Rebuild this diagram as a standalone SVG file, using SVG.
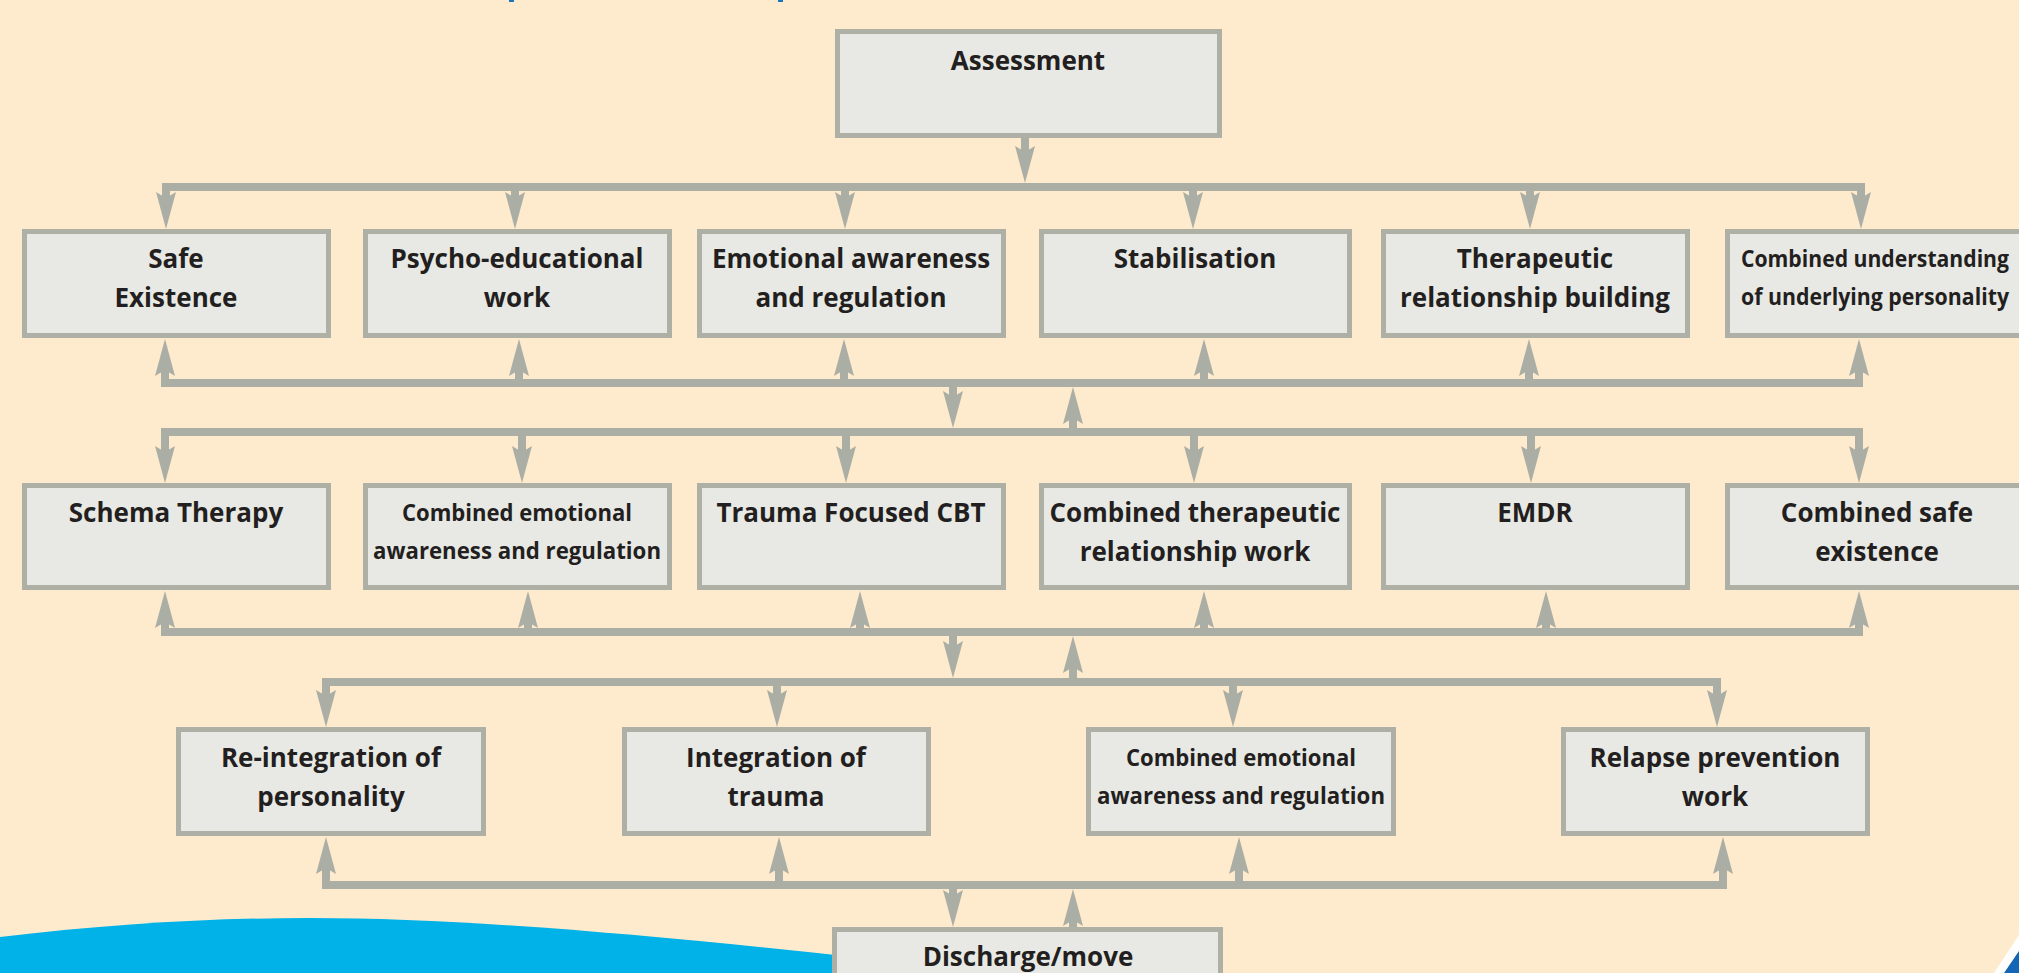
<svg xmlns="http://www.w3.org/2000/svg" xmlns:xlink="http://www.w3.org/1999/xlink" width="2019" height="973" viewBox="0 0 2019 973">
<style>
.box{fill:#e8e9e4;stroke:#aeb0a6;stroke-width:5}
.bus{fill:none;stroke:#abaea5;stroke-width:8;stroke-linejoin:miter;stroke-linecap:butt}
.ah{fill:#abaea5}
.t{font-family:"Open Sans","Liberation Sans",sans-serif;font-weight:700;font-size:26px;fill:#231f20;text-anchor:middle}
.c{font-family:"Open Sans","Liberation Sans",sans-serif;font-weight:700;font-size:24px;fill:#231f20;text-anchor:middle}
</style>
<defs>
<path id="dn" class="ah" d="M0,0 L-10,-37 L0,-31 L10,-37 Z"/>
<path id="up" class="ah" d="M0,0 L-10,37 L0,31 L10,37 Z"/>
</defs>
<rect width="2019" height="973" fill="#feebcd"/>
<rect x="509" y="0" width="5" height="2" fill="#1a75bc"/>
<rect x="778" y="0" width="5" height="2" fill="#1a75bc"/>
<path d="M0,973 L0,937 C110,924 210,918 310,918 C460,918 640,934 845,956 L845,973 Z" fill="#00b2e7"/>
<polygon points="1994,973 2019,935 2019,973" fill="#ffffff"/>
<polygon points="2004,973 2019,951 2019,973" fill="#1565b5"/>

<g id="connectors">
<path class="bus" d="M1025,135 V152"/>
<use href="#dn" x="1025" y="183"/>
<path class="bus" d="M166,198 V187 H1861 V198 M515,187 V198 M845,187 V198 M1193,187 V198 M1530,187 V198"/>
<use href="#dn" x="166" y="229"/><use href="#dn" x="515" y="229"/><use href="#dn" x="845" y="229"/><use href="#dn" x="1193" y="229"/><use href="#dn" x="1530" y="229"/><use href="#dn" x="1861" y="229"/>
<path class="bus" d="M165,370 V383 H1859 V370 M519,383 V370 M844,383 V370 M1204,383 V370 M1529,383 V370"/>
<use href="#up" x="165" y="339"/><use href="#up" x="519" y="339"/><use href="#up" x="844" y="339"/><use href="#up" x="1204" y="339"/><use href="#up" x="1529" y="339"/><use href="#up" x="1859" y="339"/>
<path class="bus" d="M953,383 V397 M1073,418 V432"/>
<use href="#dn" x="953" y="428"/><use href="#up" x="1073" y="387"/>
<path class="bus" d="M165,452 V432 H1859 V452 M522,432 V452 M846,432 V452 M1194,432 V452 M1531,432 V452"/>
<use href="#dn" x="165" y="483"/><use href="#dn" x="522" y="483"/><use href="#dn" x="846" y="483"/><use href="#dn" x="1194" y="483"/><use href="#dn" x="1531" y="483"/><use href="#dn" x="1859" y="483"/>
<path class="bus" d="M165,621 V632 H1859 V621 M528,632 V621 M860,632 V621 M1204,632 V621 M1546,632 V621"/>
<use href="#up" x="165" y="591"/><use href="#up" x="528" y="591"/><use href="#up" x="860" y="591"/><use href="#up" x="1204" y="591"/><use href="#up" x="1546" y="591"/><use href="#up" x="1859" y="591"/>
<path class="bus" d="M953,632 V647 M1073,667 V682"/>
<use href="#dn" x="953" y="678"/><use href="#up" x="1073" y="636"/>
<path class="bus" d="M326,696 V682 H1717 V696 M777,682 V696 M1233,682 V696"/>
<use href="#dn" x="326" y="727"/><use href="#dn" x="777" y="727"/><use href="#dn" x="1233" y="727"/><use href="#dn" x="1717" y="727"/>
<path class="bus" d="M326,868 V885 H1723 V868 M779,885 V868 M1239,885 V868"/>
<use href="#up" x="326" y="837"/><use href="#up" x="779" y="837"/><use href="#up" x="1239" y="837"/><use href="#up" x="1723" y="837"/>
<path class="bus" d="M953,885 V896 M1073,918 V927"/>
<use href="#dn" x="953" y="927"/><use href="#up" x="1073" y="889"/>
</g>

<g id="assessment"><rect class="box" x="837.5" y="31.5" width="382" height="104"/><text class="t" x="1028" y="70">Assessment</text></g>

<g id="safe-existence"><rect class="box" x="24.5" y="231.5" width="304" height="104"/><text class="t" x="176" y="268">Safe</text><text class="t" x="176" y="307">Existence</text></g>
<g id="psycho-educational"><rect class="box" x="365.5" y="231.5" width="304" height="104"/><text class="t" x="517" y="268">Psycho-educational</text><text class="t" x="517" y="307">work</text></g>
<g id="emotional-awareness"><rect class="box" x="699.5" y="231.5" width="304" height="104"/><text class="t" x="851" y="268">Emotional awareness</text><text class="t" x="851" y="307">and regulation</text></g>
<g id="stabilisation"><rect class="box" x="1041.5" y="231.5" width="308" height="104"/><text class="t" x="1195" y="268">Stabilisation</text></g>
<g id="therapeutic-relationship"><rect class="box" x="1383.5" y="231.5" width="304" height="104"/><text class="t" x="1535" y="268">Therapeutic</text><text class="t" x="1535" y="307">relationship building</text></g>
<g id="combined-understanding"><rect class="box" x="1727.5" y="231.5" width="306" height="104"/><text class="c" x="1875" y="267" textLength="268" lengthAdjust="spacingAndGlyphs">Combined understanding</text><text class="c" x="1875" y="305" textLength="268" lengthAdjust="spacingAndGlyphs">of underlying personality</text></g>

<g id="schema-therapy"><rect class="box" x="24.5" y="485.5" width="304" height="102"/><text class="t" x="176" y="522">Schema Therapy</text></g>
<g id="combined-emotional-1"><rect class="box" x="365.5" y="485.5" width="304" height="102"/><text class="c" x="517" y="521" textLength="230" lengthAdjust="spacingAndGlyphs">Combined emotional</text><text class="c" x="517" y="559" textLength="288" lengthAdjust="spacingAndGlyphs">awareness and regulation</text></g>
<g id="trauma-focused-cbt"><rect class="box" x="699.5" y="485.5" width="304" height="102"/><text class="t" x="851" y="522">Trauma Focused CBT</text></g>
<g id="combined-therapeutic"><rect class="box" x="1041.5" y="485.5" width="308" height="102"/><text class="t" x="1195" y="522">Combined therapeutic</text><text class="t" x="1195" y="561">relationship work</text></g>
<g id="emdr"><rect class="box" x="1383.5" y="485.5" width="304" height="102"/><text class="t" x="1535" y="522">EMDR</text></g>
<g id="combined-safe-existence"><rect class="box" x="1727.5" y="485.5" width="306" height="102"/><text class="t" x="1877" y="522">Combined safe</text><text class="t" x="1877" y="561">existence</text></g>

<g id="reintegration"><rect class="box" x="178.5" y="729.5" width="305" height="104"/><text class="t" x="331" y="767">Re-integration of</text><text class="t" x="331" y="806">personality</text></g>
<g id="integration-trauma"><rect class="box" x="624.5" y="729.5" width="304" height="104"/><text class="t" x="776" y="767">Integration of</text><text class="t" x="776" y="806">trauma</text></g>
<g id="combined-emotional-2"><rect class="box" x="1088.5" y="729.5" width="305" height="104"/><text class="c" x="1241" y="766" textLength="230" lengthAdjust="spacingAndGlyphs">Combined emotional</text><text class="c" x="1241" y="804" textLength="288" lengthAdjust="spacingAndGlyphs">awareness and regulation</text></g>
<g id="relapse-prevention"><rect class="box" x="1563.5" y="729.5" width="304" height="104"/><text class="t" x="1715" y="767">Relapse prevention</text><text class="t" x="1715" y="806">work</text></g>

<g id="discharge"><rect class="box" x="834.5" y="929.5" width="386" height="60"/><text class="t" x="1028" y="966">Discharge/move</text></g>
</svg>
